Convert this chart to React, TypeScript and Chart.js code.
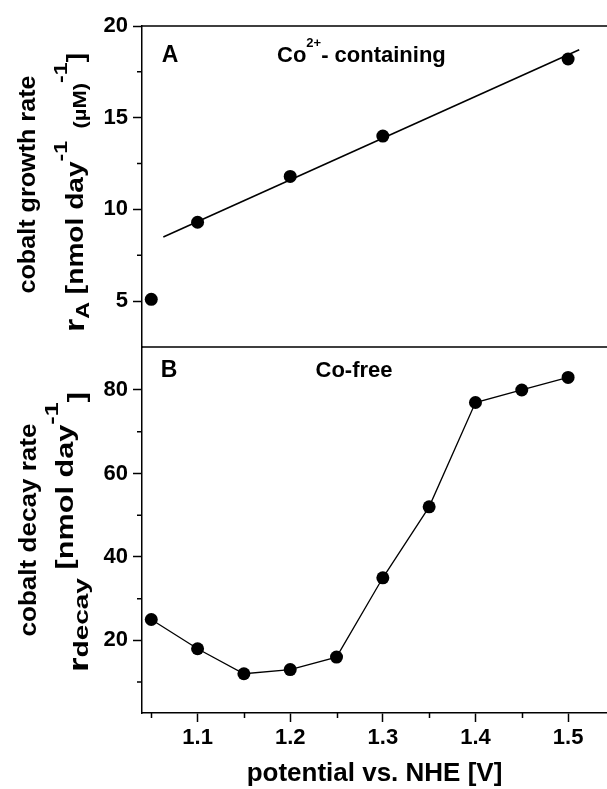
import React, { useEffect, useRef } from 'react';
import { Chart, registerables } from 'chart.js';

Chart.register(...registerables);

// ---- data ----
const potentialA = [1.05, 1.1, 1.2, 1.3, 1.5];
const rateA = [5.1, 9.3, 11.8, 14.0, 18.2];
const fitPotential = [1.063, 1.512];
const fitRate = [8.5, 18.7];
const potentialB = [1.05, 1.1, 1.15, 1.2, 1.25, 1.3, 1.35, 1.4, 1.45, 1.5];
const rateB = [25, 18, 12, 13, 16, 35, 52, 77, 80, 83];

const xTickValues = [1.05, 1.1, 1.15, 1.2, 1.25, 1.3, 1.35, 1.4, 1.45, 1.5];
const yATickValues = [5, 7.5, 10, 12.5, 15, 17.5, 20];
const yBTickValues = [10, 20, 30, 40, 50, 60, 70, 80];

const xTitle = 'potential vs. NHE [V]';
const panelALabel = 'A';
const panelBLabel = 'B';

const FONT = "'Liberation Sans', Arial, Helvetica, sans-serif";

const isMajorX = (v: number) => Math.abs(v * 10 - Math.round(v * 10)) < 1e-6;
const isMajorA = (v: number) => Math.abs(v / 5 - Math.round(v / 5)) < 1e-6;
const isMajorB = (v: number) => Math.abs(v / 20 - Math.round(v / 20)) < 1e-6;

type Seg = { t: string; size: number; dy: number };

function drawRotatedLine(ctx: CanvasRenderingContext2D, segs: Seg[], baseX: number, cy: number, targetLen: number) {
  ctx.save();
  let total = 0;
  const widths = segs.map((s) => {
    ctx.font = `bold ${s.size}px ${FONT}`;
    const w = ctx.measureText(s.t).width;
    total += w;
    return w;
  });
  const sc = targetLen / total;
  ctx.translate(baseX, cy);
  ctx.rotate(-Math.PI / 2);
  ctx.scale(sc, 1);
  ctx.fillStyle = '#000';
  ctx.textBaseline = 'alphabetic';
  ctx.textAlign = 'left';
  let u = -total / 2;
  segs.forEach((s, i) => {
    ctx.font = `bold ${s.size}px ${FONT}`;
    ctx.fillText(s.t, u, s.dy);
    u += widths[i];
  });
  ctx.restore();
}

const decorPlugin = {
  id: 'decor',
  afterDraw(chart: any) {
    const ctx: CanvasRenderingContext2D = chart.ctx;
    const x = chart.scales.x;
    const yA = chart.scales.yA;
    const yB = chart.scales.yB;
    const area = chart.chartArea;
    ctx.save();
    ctx.strokeStyle = '#000';
    ctx.lineWidth = 1.5;
    // minor ticks
    ctx.beginPath();
    xTickValues.filter((v) => !isMajorX(v)).forEach((v) => {
      const px = Math.round(x.getPixelForValue(v)) + 0.5;
      ctx.moveTo(px, x.top);
      ctx.lineTo(px, x.top + 5);
    });
    yATickValues.filter((v) => !isMajorA(v)).forEach((v) => {
      const py = yA.getPixelForValue(v);
      ctx.moveTo(yA.right - 5, py);
      ctx.lineTo(yA.right, py);
    });
    yBTickValues.filter((v) => !isMajorB(v)).forEach((v) => {
      const py = yB.getPixelForValue(v);
      ctx.moveTo(yB.right - 5, py);
      ctx.lineTo(yB.right, py);
    });
    // top frame line and panel separator
    ctx.moveTo(area.left, yA.top);
    ctx.lineTo(area.right, yA.top);
    ctx.moveTo(area.left, yB.top);
    ctx.lineTo(area.right, yB.top);
    ctx.stroke();

    // panel labels / annotations
    ctx.fillStyle = '#000';
    ctx.textBaseline = 'alphabetic';
    ctx.textAlign = 'center';
    ctx.font = `bold 23px ${FONT}`;
    ctx.fillText(panelALabel, area.left + 28, yA.top + 36);
    ctx.fillText(panelBLabel, area.left + 27, yB.top + 30);

    ctx.textAlign = 'left';
    let cx = area.left + 135;
    const by = yA.top + 35.5;
    ctx.font = `bold 22px ${FONT}`;
    ctx.fillText('Co', cx, by);
    cx += ctx.measureText('Co').width;
    ctx.font = `bold 13px ${FONT}`;
    ctx.fillText('2+', cx, by - 15);
    cx += ctx.measureText('2+').width;
    ctx.font = `bold 22px ${FONT}`;
    ctx.fillText('- containing', cx, by);

    ctx.textAlign = 'center';
    ctx.font = `bold 22px ${FONT}`;
    ctx.fillText('Co-free', area.left + 212, yB.top + 29.5);

    // rotated y titles
    const cyA = (yA.top + yA.bottom) / 2;
    const cyB = (yB.top + yB.bottom) / 2;
    drawRotatedLine(ctx, [{ t: 'cobalt growth rate', size: 23, dy: 0 }], 34.5, cyA - 2, 218);
    drawRotatedLine(
      ctx,
      [
        { t: 'r', size: 28, dy: 1 },
        { t: 'A', size: 19, dy: 6 },
        { t: ' [nmol day', size: 23, dy: 0 },
        { t: '-1', size: 19, dy: -16 },
        { t: '  (µM)', size: 18, dy: 3 },
        { t: '-1', size: 19, dy: -16 },
        { t: ']', size: 23, dy: 1 },
      ],
      83,
      cyA + 6,
      279
    );
    drawRotatedLine(ctx, [{ t: 'cobalt decay rate', size: 23, dy: 0 }], 35.5, cyB, 213);
    drawRotatedLine(
      ctx,
      [
        { t: 'r', size: 28, dy: 15 },
        { t: 'decay', size: 21, dy: 15 },
        { t: ' [nmol day', size: 23, dy: 0 },
        { t: '-1', size: 19, dy: -15 },
        { t: ']', size: 23, dy: 12 },
      ],
      73,
      cyB + 2,
      280
    );
    ctx.restore();
  },
};

const tickFont = { family: FONT, size: 22, weight: 'bold' as const };

export default function App() {
  const ref = useRef<HTMLCanvasElement | null>(null);
  useEffect(() => {
    if (!ref.current) return;
    const chart = new Chart(ref.current, {
      type: 'scatter',
      data: {
        datasets: [
          {
            data: potentialA.map((v, i) => ({ x: v, y: rateA[i] })),
            xAxisID: 'x',
            yAxisID: 'yA',
            showLine: false,
            pointRadius: 6.5,
            pointBorderWidth: 0,
            backgroundColor: '#000',
            borderColor: '#000',
          },
          {
            data: fitPotential.map((v, i) => ({ x: v, y: fitRate[i] })),
            xAxisID: 'x',
            yAxisID: 'yA',
            showLine: true,
            pointRadius: 0,
            borderWidth: 1.6,
            borderColor: '#000',
            backgroundColor: '#000',
          },
          {
            data: potentialB.map((v, i) => ({ x: v, y: rateB[i] })),
            xAxisID: 'x',
            yAxisID: 'yB',
            showLine: true,
            pointRadius: 6.5,
            pointBorderWidth: 0,
            borderWidth: 1.3,
            borderColor: '#000',
            backgroundColor: '#000',
          },
        ],
      },
      options: {
        responsive: false,
        animation: false,
        events: [],
        layout: { autoPadding: false, padding: { top: 26, left: 0, right: 0, bottom: 0 } },
        plugins: { legend: { display: false }, tooltip: { enabled: false } },
        scales: {
          x: {
            type: 'linear',
            position: 'bottom',
            min: 1.04,
            max: 1.542,
            afterBuildTicks: (s: any) => {
              s.ticks = xTickValues.map((v) => ({ value: v }));
            },
            afterFit: (s: any) => {
              s.height = 76;
              s.paddingLeft = 0;
              s.paddingRight = 0;
            },
            ticks: {
              autoSkip: false,
              maxRotation: 0,
              padding: 3,
              color: '#000',
              font: tickFont,
              callback: (v: any) => (isMajorX(Number(v)) ? Number(v).toFixed(1) : ''),
            },
            grid: {
              display: true,
              drawOnChartArea: false,
              drawTicks: true,
              tickLength: 9,
              tickWidth: 1.5,
              tickColor: (c: any) => (c.tick && isMajorX(c.tick.value) ? '#000' : 'rgba(0,0,0,0)'),
            },
            border: { display: true, color: '#000', width: 1.5 },
            title: {
              display: true,
              text: xTitle,
              color: '#000',
              font: { family: FONT, size: 26, weight: 'bold' },
              padding: { top: 0, bottom: 0 },
            },
          },
          yB: {
            type: 'linear',
            position: 'left',
            stack: 'left',
            stackWeight: 366,
            min: 2.6,
            max: 90.3,
            afterBuildTicks: (s: any) => {
              s.ticks = yBTickValues.map((v) => ({ value: v }));
            },
            afterFit: (s: any) => {
              s.width = 142;
              s.paddingTop = 0;
              s.paddingBottom = 0;
            },
            ticks: {
              autoSkip: false,
              padding: 5,
              color: '#000',
              font: tickFont,
              callback: (v: any) => (isMajorB(Number(v)) ? String(v) : ''),
            },
            grid: {
              display: true,
              drawOnChartArea: false,
              drawTicks: true,
              tickLength: 9,
              tickWidth: 1.5,
              tickColor: (c: any) => (c.tick && isMajorB(c.tick.value) ? '#000' : 'rgba(0,0,0,0)'),
            },
            border: { display: true, color: '#000', width: 1.5 },
          },
          yA: {
            type: 'linear',
            position: 'left',
            stack: 'left',
            stackWeight: 321,
            min: 2.5,
            max: 20,
            afterBuildTicks: (s: any) => {
              s.ticks = yATickValues.map((v) => ({ value: v }));
            },
            afterFit: (s: any) => {
              s.width = 142;
              s.paddingTop = 0;
              s.paddingBottom = 0;
            },
            ticks: {
              autoSkip: false,
              padding: 5,
              color: '#000',
              font: tickFont,
              callback: (v: any) => (isMajorA(Number(v)) ? String(v) : ''),
            },
            grid: {
              display: true,
              drawOnChartArea: false,
              drawTicks: true,
              tickLength: 9,
              tickWidth: 1.5,
              tickColor: (c: any) => (c.tick && isMajorA(c.tick.value) ? '#000' : 'rgba(0,0,0,0)'),
            },
            border: { display: true, color: '#000', width: 1.5 },
          },
        },
      } as any,
      plugins: [decorPlugin],
    });
    return () => chart.destroy();
  }, []);
  return (
    <div style={{ position: 'absolute', left: 0, top: 0, width: 607, height: 789, background: '#fff' }}>
      <canvas ref={ref} width={607} height={789} style={{ display: 'block' }} />
    </div>
  );
}
